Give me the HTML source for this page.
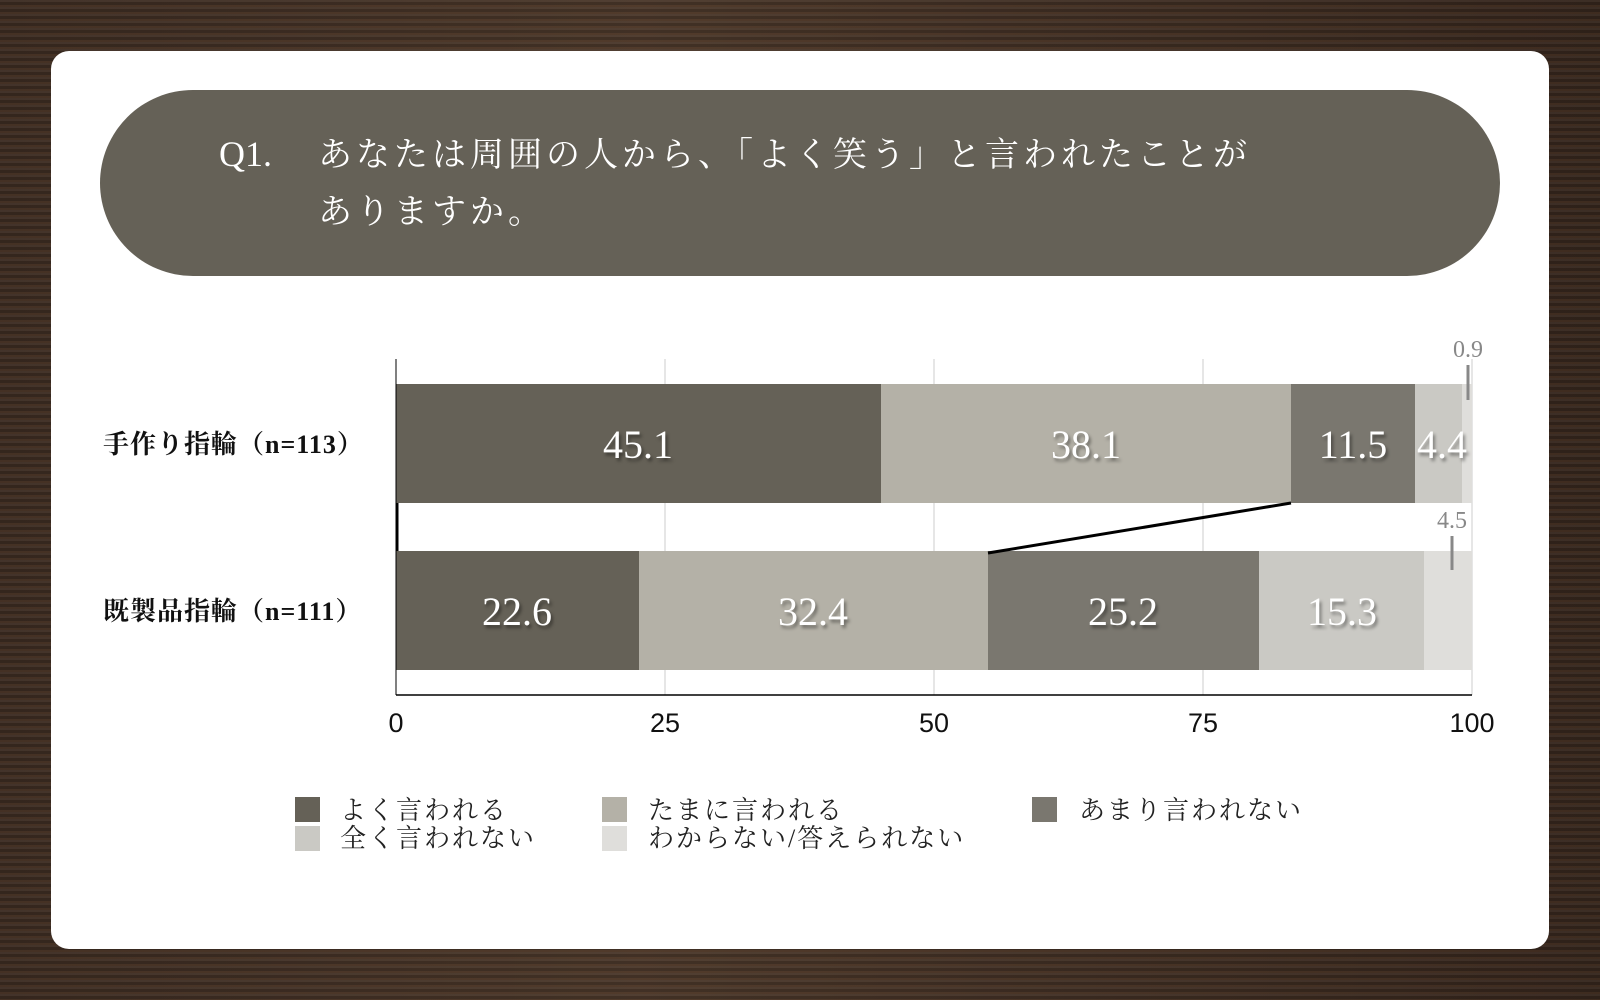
<!DOCTYPE html>
<html><head><meta charset="utf-8"><style>
body{margin:0;width:1600px;height:1000px;overflow:hidden;background:#3a2a20;
background-image:repeating-linear-gradient(180deg,rgba(255,255,255,0.04) 0 2px,rgba(0,0,0,0.12) 2px 5px,rgba(120,80,50,0.15) 5px 7px),linear-gradient(90deg,#3b2b21,#4a372a 40%,#34251c);}
</style></head><body>
<svg width="1600" height="1000" style="position:absolute;left:0;top:0" font-family="'Liberation Serif','Noto Serif CJK SC',serif">
<rect x="51" y="51" width="1498" height="898" rx="18" fill="#fff"/>
<rect x="100" y="90" width="1400" height="186" rx="93" fill="#656157"/>
<g fill="#fff" font-size="34">
<text x="219" y="166" font-size="36">Q1.</text>
<text x="318" y="166" letter-spacing="4">あなたは周囲の人から、「よく笑う」と言われたことが</text>
<text x="318" y="223" letter-spacing="4">ありますか。</text>
</g>
<g stroke="#ccc" stroke-width="1">
<line x1="665" y1="359" x2="665" y2="695"/><line x1="934" y1="359" x2="934" y2="695"/><line x1="1203" y1="359" x2="1203" y2="695"/><line x1="1472" y1="359" x2="1472" y2="695"/>
</g>
<g>
<rect x="396" y="384" width="485" height="119" fill="#656157"/>
<rect x="881" y="384" width="410" height="119" fill="#b4b1a7"/>
<rect x="1291" y="384" width="124" height="119" fill="#7a776f"/>
<rect x="1415" y="384" width="47" height="119" fill="#cac9c4"/>
<rect x="1462" y="384" width="10" height="119" fill="#dfdedb"/>
<rect x="396" y="551" width="243" height="119" fill="#656157"/>
<rect x="639" y="551" width="349" height="119" fill="#b4b1a7"/>
<rect x="988" y="551" width="271" height="119" fill="#7a776f"/>
<rect x="1259" y="551" width="165" height="119" fill="#cac9c4"/>
<rect x="1424" y="551" width="48" height="119" fill="#dfdedb"/>
</g>
<line x1="396" y1="359" x2="396" y2="695" stroke="#000" stroke-width="1"/>
<line x1="396" y1="695" x2="1472" y2="695" stroke="#000" stroke-width="1.5"/>
<line x1="397" y1="503" x2="397" y2="551" stroke="#000" stroke-width="3"/>
<line x1="1291" y1="503" x2="988" y2="553" stroke="#000" stroke-width="3"/>
<g fill="#fff" font-size="40" text-anchor="middle" style="text-shadow:2px 3px 3px rgba(0,0,0,0.4)">
<text x="638" y="458">45.1</text><text x="1086" y="458">38.1</text><text x="1353" y="458">11.5</text><text x="1442" y="458">4.4</text>
<text x="517" y="625">22.6</text><text x="813" y="625">32.4</text><text x="1123" y="625">25.2</text><text x="1342" y="625">15.3</text>
</g>
<g fill="#888" font-size="24" text-anchor="middle">
<text x="1468" y="357">0.9</text><text x="1452" y="528">4.5</text>
</g>
<line x1="1468" y1="365" x2="1468" y2="400" stroke="#888" stroke-width="3"/>
<line x1="1452" y1="536" x2="1452" y2="570" stroke="#888" stroke-width="3"/>
<g fill="#111" font-size="26" font-weight="bold" letter-spacing="1">
<text x="103" y="453">手作り指輪（n=113）</text>
<text x="103" y="620">既製品指輪（n=111）</text>
</g>
<g fill="#111" font-size="27" text-anchor="middle" font-family="'Liberation Sans',sans-serif">
<text x="396" y="732">0</text><text x="665" y="732">25</text><text x="934" y="732">50</text><text x="1203" y="732">75</text><text x="1472" y="732">100</text>
</g>
<rect x="295" y="797" width="25" height="25" fill="#656157"/>
<rect x="602" y="797" width="25" height="25" fill="#b4b1a7"/>
<rect x="1032" y="797" width="25" height="25" fill="#7a776f"/>
<rect x="295" y="826" width="25" height="25" fill="#cac9c4"/>
<rect x="602" y="826" width="25" height="25" fill="#dfdedb"/>
<g fill="#222" font-size="26" letter-spacing="2">
<text x="340" y="819">よく言われる</text><text x="648" y="819">たまに言われる</text><text x="1079" y="819">あまり言われない</text>
<text x="340" y="847">全く言われない</text><text x="648" y="847">わからない/答えられない</text>
</g>
</svg>
</body></html>
